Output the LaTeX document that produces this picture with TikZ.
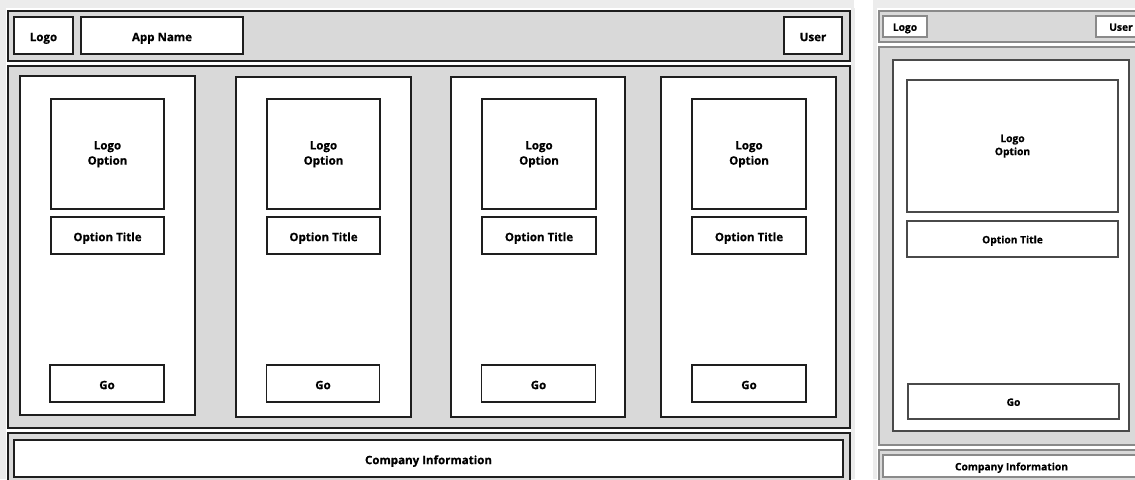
\documentclass[tikz,border=0pt]{standalone}
\usepackage{fontspec}
\setmainfont{Open Sans}[BoldFeatures={FakeBold=0.6}]
\usepackage{xcolor}
\usepackage{tikz}
\definecolor{WFPanel}{HTML}{D9D9D9}
\definecolor{WFEdge}{HTML}{1E1E1E}
\definecolor{WFSoft}{HTML}{8A8A8A}
\definecolor{WFMid}{HTML}{4A4A4A}
\definecolor{WFStrip}{HTML}{ECECEC}
\newcommand\optlines[2]{\raisebox{-1.8pt}{\begin{tabular}{@{}c@{}}#1\\#2\end{tabular}}}

\begin{document}
\begin{tikzpicture}[x=0.025cm,y=-0.025cm,
  panel/.style={fill=WFPanel,draw=WFEdge,line width=1.3pt},
  softpanel/.style={fill=WFPanel,draw=WFSoft,line width=1.2pt},
  wbox/.style={draw=WFEdge,fill=white,line width=1.1pt,inner sep=0pt,
    text height=8pt,text depth=0pt,font=\fontsize{8.2}{10.8}\selectfont\bfseries},
  woption/.style={wbox,text height=,text depth=},
  sbox/.style={draw=WFMid,fill=white,line width=0.8pt,inner sep=0pt,
    text height=6.2pt,text depth=0pt,font=\fontsize{7.3}{9.3}\selectfont\bfseries},
  soption/.style={sbox,text height=,text depth=},
  hbox/.style={sbox,draw=WFSoft}]
\path[use as bounding box] (0,0) rectangle (1135,479);
\fill[white] (0,0) rectangle (1135,479);
\fill[WFStrip] (0,0) rectangle (854,8);
\fill[WFStrip] (0,0) rectangle (6,479);
\fill[WFStrip] (851,8) rectangle (855,479);
\fill[WFStrip] (873,0) rectangle (1135,8);
\fill[WFStrip] (873,0) rectangle (877,479);
% desktop layout
\draw[panel] (8,11) rectangle (850,61);
\node[wbox,minimum width=1.475cm,minimum height=0.925cm] (dLogo) at (43.5,35.5) {Logo};
\node[wbox,minimum width=4.05cm,minimum height=0.925cm] (dApp) at (162,35.5) {App Name};
\node[wbox,minimum width=1.45cm,minimum height=0.925cm] (dUser) at (813,35.5) {User};
\draw[panel] (8,66) rectangle (850,428);
\node[wbox,minimum width=4.375cm,minimum height=8.475cm] (dCardA) at (107.5,245.5) {};
\node[woption,minimum width=2.825cm,minimum height=2.75cm] (dOptA) at (107.5,154) {\optlines{Logo}{Option}};
\node[wbox,minimum width=2.825cm,minimum height=0.925cm] (dTitleA) at (107.5,235.5) {Option Title};
\node[wbox,minimum width=2.85cm,minimum height=0.925cm] (dGoA) at (107,383.5) {Go};
\node[wbox,minimum width=4.375cm,minimum height=8.5cm] (dCardB) at (323.5,247) {};
\node[woption,minimum width=2.825cm,minimum height=2.75cm] (dOptB) at (323.5,154) {\optlines{Logo}{Option}};
\node[wbox,minimum width=2.825cm,minimum height=0.925cm] (dTitleB) at (323.5,235.5) {Option Title};
\node[wbox,minimum width=2.825cm,minimum height=0.925cm] (dGoB) at (323,383.5) {Go};
\node[wbox,minimum width=4.35cm,minimum height=8.5cm] (dCardC) at (538,247) {};
\node[woption,minimum width=2.85cm,minimum height=2.75cm] (dOptC) at (539,154) {\optlines{Logo}{Option}};
\node[wbox,minimum width=2.85cm,minimum height=0.925cm] (dTitleC) at (539,235.5) {Option Title};
\node[wbox,minimum width=2.85cm,minimum height=0.925cm] (dGoC) at (538.5,383.5) {Go};
\node[wbox,minimum width=4.375cm,minimum height=8.5cm] (dCardD) at (748.5,247) {};
\node[woption,minimum width=2.85cm,minimum height=2.75cm] (dOptD) at (749,154) {\optlines{Logo}{Option}};
\node[wbox,minimum width=2.85cm,minimum height=0.925cm] (dTitleD) at (749,235.5) {Option Title};
\node[wbox,minimum width=2.85cm,minimum height=0.925cm] (dGoD) at (749,383.5) {Go};
\draw[panel] (8,433) rectangle (850,485);
\node[wbox,minimum width=20.725cm,minimum height=0.925cm] (dFoot) at (428.5,458.5) {Company Information};
% mobile layout
\draw[softpanel] (879,11) rectangle (1145,42);
\node[hbox,minimum width=1.1cm,minimum height=0.525cm] (mLogo) at (905,26.5) {Logo};
\node[hbox,minimum width=1.25cm,minimum height=0.525cm] (mUser) at (1121,26.5) {User};
\draw[softpanel] (879,47) rectangle (1145,445);
\node[sbox,minimum width=5.9cm,minimum height=9.275cm] (mCard) at (1011,245.5) {};
\node[soption,minimum width=5.275cm,minimum height=3.3cm] (mOpt) at (1012.5,146) {\optlines{Logo}{Option}};
\node[sbox,minimum width=5.275cm,minimum height=0.9cm] (mTitle) at (1012.5,239) {Option Title};
\node[sbox,minimum width=5.275cm,minimum height=0.875cm] (mGo) at (1013.5,401.5) {Go};
\draw[softpanel] (879,450) rectangle (1145,485);
\node[hbox,minimum width=6.425cm,minimum height=0.55cm] (mFoot) at (1011.5,466) {Company Information};
\end{tikzpicture}
\end{document}
